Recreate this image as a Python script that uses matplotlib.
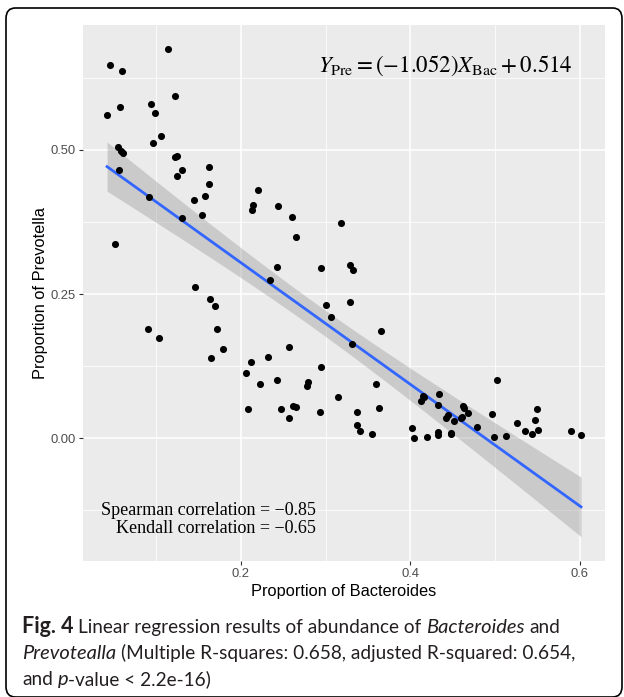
import numpy as np
import matplotlib
matplotlib.use('Agg')
import matplotlib.pyplot as plt
from matplotlib.patches import FancyBboxPatch

plt.rcParams['mathtext.fontset'] = 'stix'

# proportions
bac = [0.045, 0.060, 0.114, 0.1225, 0.094, 0.0985, 0.057, 0.042, 0.106, 0.0966,
       0.0549, 0.0584, 0.0608, 0.0565, 0.1225, 0.1249, 0.1308, 0.124, 0.1626, 0.162,
       0.1575, 0.1445, 0.091, 0.130, 0.154, 0.2197, 0.2138, 0.2134, 0.244, 0.260,
       0.318, 0.265, 0.0513, 0.146, 0.1634, 0.1697, 0.1713, 0.0899, 0.1036, 0.1788,
       0.1642, 0.2122, 0.206, 0.2219, 0.2079, 0.2428, 0.294, 0.3283, 0.3325, 0.2338,
       0.3003, 0.3283, 0.3062, 0.3652, 0.3306, 0.257, 0.2319, 0.294, 0.2421, 0.2794,
       0.2775, 0.3597, 0.3141, 0.3625, 0.2472, 0.261, 0.2645, 0.257, 0.2929, 0.3372,
       0.3365, 0.3408, 0.3546, 0.4018, 0.4038, 0.4195, 0.4144, 0.4157, 0.4127, 0.4333,
       0.4325, 0.4328, 0.4328, 0.4478, 0.4474, 0.4415, 0.4446, 0.451, 0.4616, 0.4631,
       0.4682, 0.460, 0.4611, 0.4788, 0.4965, 0.5024, 0.4985, 0.5127, 0.5253, 0.5351,
       0.5437, 0.5508, 0.5473, 0.5489, 0.589, 0.6012]
pre = [0.648, 0.637, 0.675, 0.594, 0.580, 0.565, 0.574, 0.561, 0.525, 0.513,
       0.506, 0.499, 0.494, 0.466, 0.487, 0.490, 0.465, 0.455, 0.4705, 0.441,
       0.421, 0.414, 0.418, 0.382, 0.388, 0.430, 0.4045, 0.396, 0.403, 0.384,
       0.373, 0.349, 0.337, 0.2616, 0.241, 0.229, 0.190, 0.1887, 0.1736, 0.155,
       0.139, 0.132, 0.1134, 0.0932, 0.050, 0.2974, 0.2957, 0.300, 0.292, 0.2749,
       0.2315, 0.2355, 0.2095, 0.1858, 0.1638, 0.1574, 0.1412, 0.1233, 0.1002, 0.0967,
       0.0897, 0.0937, 0.0707, 0.0527, 0.0509, 0.055, 0.0544, 0.0353, 0.0457, 0.0446,
       0.0226, 0.0127, 0.0075, 0.0179, 0.000, 0.0023, 0.0729, 0.0712, 0.0648, 0.0759,
       0.0578, 0.011, 0.0052, 0.0092, 0.0064, 0.0353, 0.0394, 0.0295, 0.0561, 0.0526,
       0.0428, 0.0342, 0.0365, 0.0196, 0.0411, 0.1007, 0.0012, 0.003, 0.026, 0.0122,
       0.0069, 0.0144, 0.0307, 0.0498, 0.0127, 0.0047]

x_ticks = [0.2, 0.4, 0.6]
x_labels = ['0.2', '0.4', '0.6']
y_ticks = [0.0, 0.25, 0.5]
y_labels = ['0.00', '0.25', '0.50']

bac = np.array(bac)
pre = np.array(pre)

# lm fit with 95% band, like geom_smooth(method='lm')
k, m = np.polyfit(bac, pre, 1)
n = len(bac)
xs = np.linspace(bac.min(), bac.max(), 80)
yhat = k * xs + m
s = np.sqrt(np.sum((pre - (k * bac + m)) ** 2) / (n - 2))
se = s * np.sqrt(1 / n + (xs - bac.mean()) ** 2 / np.sum((bac - bac.mean()) ** 2))
band = 1.983 * se

W, H = 624, 697
fig = plt.figure(figsize=(W / 100, H / 100), dpi=100)
fig.patches.append(FancyBboxPatch((6 / W, 0.0), 616 / W, 689 / H,
                                  boxstyle='round,pad=0,rounding_size=0.015',
                                  transform=fig.transFigure, fill=False,
                                  ec='black', lw=1.2))

ax = fig.add_axes([83 / W, 1 - 561 / H, 522 / W, 536 / H])
ax.set_facecolor('#EBEBEB')
for sp in ax.spines.values():
    sp.set_visible(False)
ax.set_xlim(0.0136, 0.6295)
ax.set_ylim(-0.2135, 0.717)
ax.set_xticks(x_ticks, x_labels)
ax.set_yticks(y_ticks, y_labels)
ax.set_xticks([0.1, 0.3, 0.5], minor=True)
ax.set_yticks([-0.125, 0.125, 0.375, 0.625], minor=True)
ax.grid(True, which='major', color='white', lw=1.1)
ax.grid(True, which='minor', color='white', lw=0.55)
ax.set_axisbelow(True)
ax.tick_params(which='major', length=3, width=0.8, color='#333333',
               labelcolor='#4D4D4D', labelsize=9.4, pad=2)
ax.tick_params(which='minor', length=0)
for lab in ax.get_xticklabels() + ax.get_yticklabels():
    lab.set_family('Liberation Sans')

ax.fill_between(xs, yhat - band, yhat + band, color='#999999', alpha=0.4, lw=0)
ax.plot(xs, yhat, color='#3366FF', lw=2)
ax.scatter(bac, pre, s=26, c='black', lw=0, zorder=3)

ax.set_xlabel('Proportion of Bacteroides', family='Liberation Sans', fontsize=11.8, labelpad=3)
ax.set_ylabel('Proportion of Prevotella', family='Liberation Sans', fontsize=11.8, labelpad=2)

fig.text(573 / W, 1 - 72 / H, r'$Y_{\mathrm{Pre}} = (-1.052)X_{\mathrm{Bac}} + 0.514$',
         ha='right', va='baseline', fontsize=16.5)

fig.text(316 / W, 1 - 515 / H, 'Spearman correlation = \u22120.85', family='Liberation Serif',
         fontsize=13, ha='right', va='baseline')
fig.text(316 / W, 1 - 533 / H, 'Kendall correlation = \u22120.65', family='Liberation Serif',
         fontsize=13, ha='right', va='baseline')

# caption with mixed bold / italic runs
cap_font = 'Lato'
r = fig.canvas.get_renderer()


def width_px(txt, size):
    t = fig.text(0, 0, txt, fontsize=size, family=cap_font)
    w = t.get_window_extent(renderer=r).width
    t.remove()
    return w


gap = width_px('a a', 13.7) - width_px('aa', 13.7)
lines = [
    [('Fig. 4', 'normal', 'bold', 15.5), ('Linear regression results of abundance of', 'normal', 'normal', 13.7),
     ('Bacteroides', 'italic', 'normal', 14.5), ('and', 'normal', 'normal', 13.7)],
    [('Prevotealla', 'italic', 'normal', 14.5),
     ('(Multiple R-squares: 0.658, adjusted R-squared: 0.654,', 'normal', 'normal', 13.7)],
    [('and', 'normal', 'normal', 13.7), ('p', 'italic', 'normal', 14.5),
     ('-value < 2.2e-16)', 'normal', 'normal', 13.7)],
]
baselines = [633, 659, 685]
for parts, yb in zip(lines, baselines):
    x = 22.0
    for txt, st, wt, sz in parts:
        t = fig.text(x / W, 1 - yb / H, txt, fontsize=sz, family=cap_font,
                     style=st, weight=wt, va='baseline', color='#231F20')
        x += t.get_window_extent(renderer=r).width
        if txt != 'p':
            x += gap

fig.savefig('out.png', dpi=100)
